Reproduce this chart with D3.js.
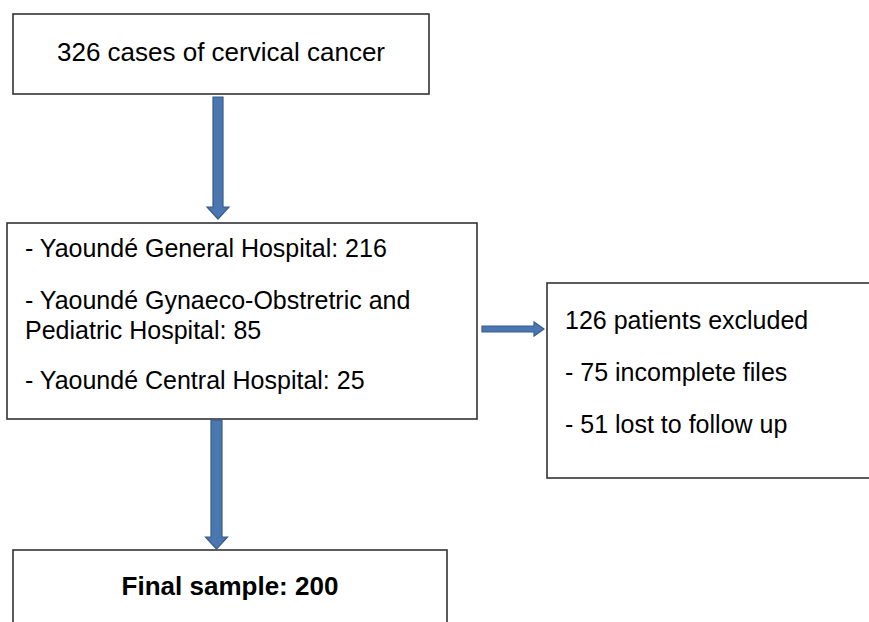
<!DOCTYPE html>
<html>
<head>
<meta charset="utf-8">
<script src="https://cdn.jsdelivr.net/npm/d3@7"></script>
<style>
  body { margin: 0; background: #fff; }
  svg { display: block; }
  text { font-family: "Liberation Sans", Arial, sans-serif; font-size: 25px; fill: #000; }
</style>
</head>
<body>
<svg id="chart" width="869" height="622"></svg>
<script>
  // flow content
  var totalCases = 326;
  var hospitals = ['Yaoundé General Hospital', 'Yaoundé Gynaeco-Obstretric and\nPediatric Hospital', 'Yaoundé Central Hospital'];
  var hospitalCounts = [216, 85, 25];
  var exclusionReasons = ['incomplete files', 'lost to follow up'];
  var exclusionCounts = [75, 51];
  var finalSample = 200;

  // layout (pixels)
  var boxes = {
    total:    { x: 13,  y: 14,  w: 416, h: 80 },
    sites:    { x: 7,   y: 223, w: 470, h: 196 },
    excluded: { x: 547, y: 283, w: 340, h: 195 },
    final:    { x: 13,  y: 550, w: 434, h: 120 }
  };

  var svg = d3.select('#chart');

  svg.selectAll('rect.box')
    .data(Object.values(boxes))
    .enter()
    .append('rect')
    .attr('class', 'box')
    .attr('x', function(d) { return d.x; })
    .attr('y', function(d) { return d.y; })
    .attr('width', function(d) { return d.w; })
    .attr('height', function(d) { return d.h; })
    .attr('fill', '#fff')
    .attr('stroke', '#333')
    .attr('stroke-width', 1.6);

  // block arrow polygon: from (x0,y0) to tip (x1,y1)
  function arrowPoints(x0, y0, x1, y1, shaft, head, headLen) {
    var dx = x1 - x0, dy = y1 - y0,
        len = Math.sqrt(dx * dx + dy * dy),
        ux = dx / len, uy = dy / len,
        nx = -uy, ny = ux,
        bx = x1 - ux * headLen, by = y1 - uy * headLen;
    return [
      [x0 + nx * shaft / 2, y0 + ny * shaft / 2],
      [bx + nx * shaft / 2, by + ny * shaft / 2],
      [bx + nx * head / 2, by + ny * head / 2],
      [x1, y1],
      [bx - nx * head / 2, by - ny * head / 2],
      [bx - nx * shaft / 2, by - ny * shaft / 2],
      [x0 - nx * shaft / 2, y0 - ny * shaft / 2]
    ];
  }

  var arrows = [
    arrowPoints(218, 97, 218, 219, 10, 22, 12),
    arrowPoints(482, 329, 544, 329, 6, 14, 10),
    arrowPoints(216.5, 420, 216.5, 549, 11, 22, 12)
  ];

  var line = d3.line().curve(d3.curveLinearClosed);

  svg.selectAll('path.arrow')
    .data(arrows)
    .enter()
    .append('path')
    .attr('class', 'arrow')
    .attr('d', line)
    .attr('fill', '#4a77b0')
    .attr('stroke', '#385d8a')
    .attr('stroke-width', 1.2);

  // box 1
  svg.append('text')
    .attr('x', boxes.total.x + boxes.total.w / 2)
    .attr('y', 61)
    .attr('text-anchor', 'middle')
    .style('font-size', '26px')
    .text(totalCases + ' cases of cervical cancer');

  // box 2 - hospital lines
  var siteLines = [];
  var siteBase = [257, 309, 389];
  hospitals.forEach(function(h, i) {
    var parts = ('- ' + h + ': ' + hospitalCounts[i]).split('\n');
    parts.forEach(function(p, j) {
      siteLines.push({ text: p, y: siteBase[i] + j * 30 });
    });
  });

  svg.selectAll('text.site')
    .data(siteLines)
    .enter()
    .append('text')
    .attr('class', 'site')
    .attr('x', boxes.sites.x + 18)
    .attr('y', function(d) { return d.y; })
    .text(function(d) { return d.text; });

  // box 3 - exclusions
  var exclTotal = d3.sum(exclusionCounts);
  var exclLines = [exclTotal + ' patients excluded'].concat(exclusionReasons.map(function(r, i) {
    return '- ' + exclusionCounts[i] + ' ' + r;
  }));

  svg.selectAll('text.excl')
    .data(exclLines)
    .enter()
    .append('text')
    .attr('class', 'excl')
    .attr('x', boxes.excluded.x + 18)
    .attr('y', function(d, i) { return 329 + i * 52; })
    .text(function(d) { return d; });

  // box 4
  svg.append('text')
    .attr('x', boxes.final.x + boxes.final.w / 2)
    .attr('y', 595)
    .attr('text-anchor', 'middle')
    .attr('font-weight', 'bold')
    .style('font-size', '26px')
    .text('Final sample: ' + finalSample);
</script>
</body>
</html>
